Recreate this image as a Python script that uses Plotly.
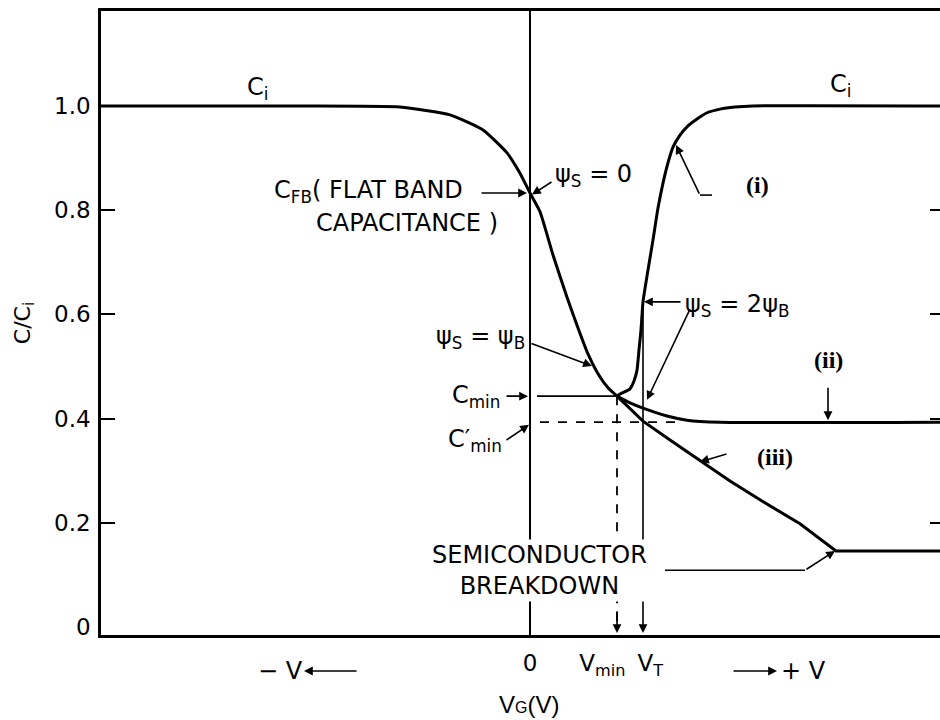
import plotly.graph_objects as go

# ---- MOS capacitance-voltage characteristics (normalised C/Ci vs gate voltage) ----
# gate voltage in arbitrary units, 0 = flat-band
V_DEP = [-4.29, -2.30, -1.30, -0.80, -0.47, -0.23, -0.10, 0.00, 0.10, 0.23,
         0.37, 0.48, 0.58, 0.68, 0.78, 0.87]
C_DEP = [1.000, 1.000, 0.998, 0.983, 0.954, 0.910, 0.871, 0.833, 0.797, 0.714,
         0.633, 0.574, 0.524, 0.486, 0.459, 0.443]

# (i) low frequency
V_I = [0.87, 0.90, 1.00, 1.04, 1.07, 1.09, 1.11, 1.13, 1.18, 1.23, 1.28, 1.33,
       1.38, 1.43, 1.50, 1.57, 1.67, 1.77, 1.90, 2.05, 2.23, 4.10]
C_I = [0.443, 0.447, 0.457, 0.472, 0.493, 0.532, 0.570, 0.624, 0.685, 0.743,
       0.804, 0.852, 0.891, 0.921, 0.944, 0.960, 0.975, 0.987, 0.994, 0.998,
       1.000, 1.000]

# (ii) high frequency
V_II = [0.87, 1.00, 1.13, 1.37, 1.57, 1.90, 4.10]
C_II = [0.443, 0.430, 0.420, 0.405, 0.397, 0.393, 0.393]

# (iii) deep depletion
V_III = [0.87, 1.00, 1.13, 1.40, 1.70, 2.00, 2.30, 2.70, 3.06, 4.10]
C_III = [0.443, 0.418, 0.395, 0.359, 0.319, 0.280, 0.244, 0.198, 0.146, 0.146]

# characteristic points
C_FB = 0.833
V_MIN = 0.87
C_MIN = 0.443
C_MIN_PRIME = 0.393
V_T = 1.13
C_2PSI_B = 0.624
C_BREAKDOWN = 0.146
V_BREAKDOWN = 3.06

Y_TICKS = [0, 0.2, 0.4, 0.6, 0.8, 1.0]
Y_TICK_TEXT = ["0", "0.2", "0.4", "0.6", "0.8", "1.0"]
X_TICKS = [0, V_MIN, V_T]
X_TICK_TEXT = ["0", "V<sub>min</sub>&nbsp;&nbsp;&nbsp;&nbsp;", "&nbsp;&nbsp;V<sub>T</sub>"]

X_RANGE = [-4.29, 4.10]
Y_RANGE = [-0.0154, 1.1823]

FONT = "DejaVu Sans"
INK = "black"
LETTER = 24

fig = go.Figure()


def curve(x, y, yaxis="y", shape="spline"):
    fig.add_trace(go.Scatter(
        x=x, y=y, mode="lines", yaxis=yaxis, showlegend=False, hoverinfo="skip",
        line=dict(color=INK, width=3, shape=shape, smoothing=0.5),
    ))


curve(V_DEP, C_DEP)
curve(V_I, C_I)
curve(V_II, C_II, yaxis="y2")
curve(V_III, C_III, yaxis="y3", shape="linear")

shapes = []


def seg(x0, y0, x1, y1, dash="solid", width=1.8):
    shapes.append(dict(type="line", xref="x", yref="y", x0=x0, y0=y0, x1=x1, y1=y1,
                       line=dict(color=INK, width=width, dash=dash), layer="above"))


# C_min and C'_min guide lines
seg(0.07, C_MIN, V_MIN, C_MIN)
seg(0.10, C_MIN_PRIME, 1.50, C_MIN_PRIME, dash="dash")
seg(V_MIN, C_MIN, V_MIN, 0.0, dash="dash")
# leaders
seg(1.70, 0.829, 1.82, 0.829, width=1.6)
seg(1.35, 0.109, 2.75, 0.109, width=1.6)

annotations = []


def label(x, y, text, size=LETTER, xanchor="center", family=FONT, bg=None, yref="y"):
    a = dict(x=x, y=y, xref="x", yref=yref, text=text, showarrow=False,
             xanchor=xanchor, yanchor="middle",
             font=dict(family=family, size=size, color=INK))
    if bg:
        a["bgcolor"] = bg
    annotations.append(a)


def arrow(x, y, ax, ay, width=1.6, size=1.1):
    annotations.append(dict(x=x, y=y, ax=ax, ay=ay, xref="x", yref="y",
                            axref="x", ayref="y", text="", showarrow=True,
                            arrowhead=2, arrowsize=size, arrowwidth=width,
                            arrowcolor=INK))


def harrow_below(x, ax, y_paper, width=1.6, size=1.1):
    # horizontal arrow placed under the plotting area
    annotations.append(dict(x=x, y=y_paper, ax=ax, ay=0, xref="x", yref="paper",
                            axref="x", ayref="pixel", text="", showarrow=True,
                            arrowhead=2, arrowsize=size, arrowwidth=width,
                            arrowcolor=INK))


label(-2.73, 1.034, "C<sub>i</sub>")
label(3.10, 1.040, "C<sub>i</sub>")

label(-0.65, 0.835, "C<sub>FB</sub>( FLAT BAND", xanchor="right")
label(-0.30, 0.775, "CAPACITANCE )", xanchor="right")
arrow(-0.03, C_FB, -0.50, C_FB)

label(0.23, 0.866, "ψ<sub>S</sub> = 0", xanchor="left")
arrow(0.02, C_FB - 0.003, 0.23, 0.856)

label(-0.03, 0.555, "ψ<sub>S</sub> = ψ<sub>B</sub>", xanchor="right")
arrow(0.62, 0.501, 0.00, 0.545)

label(-0.28, C_MIN, "C<sub>min</sub>", xanchor="right")
arrow(-0.02, C_MIN, -0.25, C_MIN)

label(-0.26, 0.357, "C′<sub>min</sub>", xanchor="right")
arrow(-0.01, 0.388, -0.25, 0.357)

label(1.53, 0.618, "ψ<sub>S</sub> = 2ψ<sub>B</sub>", xanchor="left")
arrow(V_T + 0.01, C_2PSI_B, 1.52, C_2PSI_B)
arrow(1.17, 0.436, 1.60, 0.610)

# V_min and V_T markers on the gate-voltage axis
arrow(V_MIN, -0.0115, V_MIN, 0.033)
arrow(V_T, -0.0115, V_T, C_2PSI_B)

label(2.27, 0.848, "<b>(i)</b>", size=24, family="Liberation Serif")
arrow(1.46, 0.925, 1.70, 0.829)

label(2.98, 0.512, "<b>(ii)</b>", size=24, family="Liberation Serif")
arrow(2.98, 0.397, 2.98, 0.462)

label(2.45, 0.326, "<b>(iii)</b>", size=24, family="Liberation Serif")
arrow(1.70, 0.317, 1.98, 0.333)

label(0.09, 0.109, "SEMICONDUCTOR<br>BREAKDOWN", bg="white")
arrow(V_BREAKDOWN - 0.01, C_BREAKDOWN, 2.75, 0.109)

# voltage direction markers and axis title below the axis (paper coordinates)
Y_DIR = -0.0577
label(-2.50, Y_DIR, "− V", yref="paper")
harrow_below(-2.26, -1.72, Y_DIR)
label(2.73, Y_DIR, "+ V", yref="paper")
harrow_below(2.47, 2.02, Y_DIR)
label(-0.01, -0.1106, "V<span style='font-size:16px'>G</span>(V)", size=24,
      family="Liberation Sans", yref="paper")

axis_font = dict(family=FONT, size=23, color=INK)

fig.update_layout(
    width=940, height=720,
    margin=dict(l=101, r=0, t=11, b=85, pad=0),
    paper_bgcolor="white", plot_bgcolor="white",
    showlegend=False,
    shapes=shapes, annotations=annotations,
    xaxis=dict(range=X_RANGE, showline=True, linecolor=INK, linewidth=2.5,
               mirror=True, showgrid=False, zeroline=True, zerolinecolor=INK,
               zerolinewidth=1.6, tickvals=X_TICKS, ticktext=X_TICK_TEXT,
               ticks="outside", ticklen=6, tickcolor="rgba(0,0,0,0)",
               tickangle=0, tickfont=axis_font, fixedrange=True),
    yaxis=dict(range=Y_RANGE, showline=True, linecolor=INK, linewidth=2.5,
               showgrid=False, zeroline=False, tickvals=Y_TICKS,
               ticktext=Y_TICK_TEXT, ticks="", ticklabelstandoff=3,
               tickfont=axis_font, fixedrange=True,
               title=dict(text="C/C<sub>i</sub>", standoff=18,
                          font=dict(family=FONT, size=22, color=INK))),
    yaxis2=dict(range=Y_RANGE, overlaying="y", side="right", anchor="x",
                showline=False, showgrid=False, zeroline=False,
                tickvals=Y_TICKS[1:], ticks="inside", ticklen=10, tickwidth=2,
                tickcolor=INK, showticklabels=False, fixedrange=True),
    yaxis3=dict(range=Y_RANGE, overlaying="y", side="left", anchor="x",
                showline=False, showgrid=False, zeroline=False,
                tickvals=Y_TICKS[1:], ticks="inside", ticklen=14, tickwidth=2,
                tickcolor=INK, showticklabels=False, fixedrange=True),
)

fig.write_html("out.html")
